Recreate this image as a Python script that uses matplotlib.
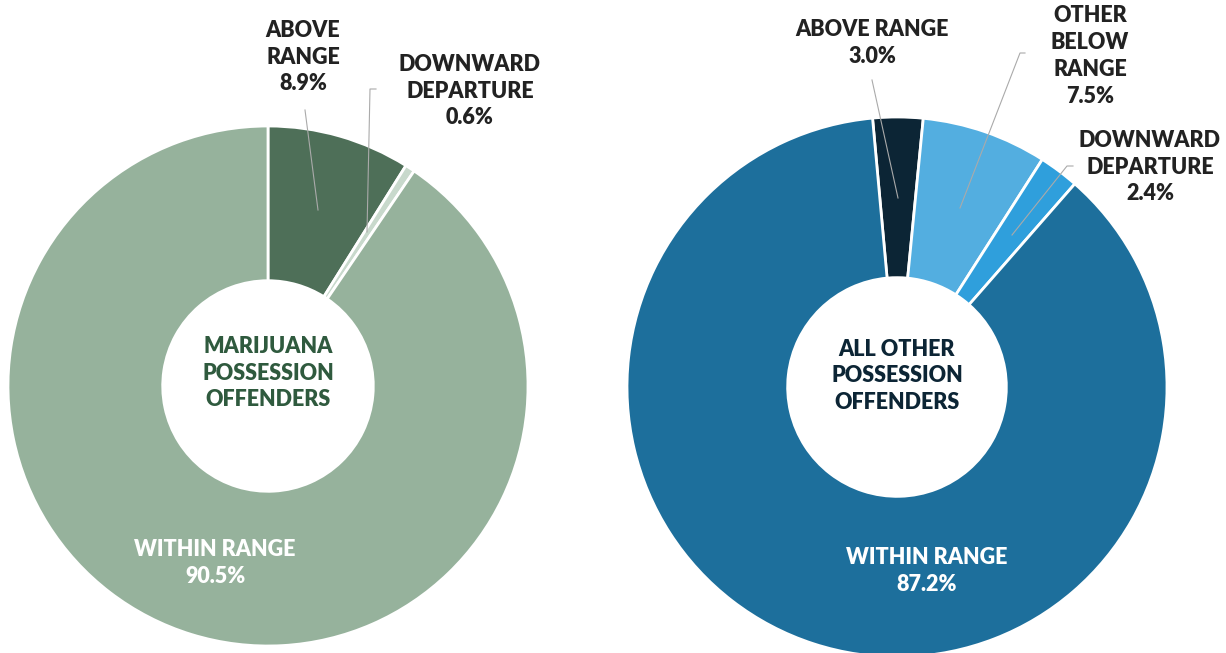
import matplotlib.pyplot as plt

plt.rcParams['font.family'] = ['Lato', 'DejaVu Sans']

# marijuana possession offenders
mjLabels = ['ABOVE\nRANGE', 'DOWNWARD\nDEPARTURE', 'WITHIN RANGE']
mjValues = [8.9, 0.6, 90.5]
mjColors = ['#4e6f58', '#c8d9cc', '#96b29c']

# all other possession offenders
otherLabels = ['ABOVE RANGE', 'OTHER\nBELOW\nRANGE', 'DOWNWARD\nDEPARTURE', 'WITHIN RANGE']
otherValues = [3.0, 7.5, 2.4, 87.2]
otherColors = ['#0c2535', '#53aee0', '#2f9fdc', '#1d6f9c']

W, H = 1226, 653

fig = plt.figure(figsize=(W / 100, H / 100), dpi=100)
ax = fig.add_axes([0, 0, 1, 1])


def y(py):
    # pixel row from top -> data y
    return H - py


def donut(center, radius, values, colors, start):
    ax.pie(values, colors=colors, center=center, radius=radius,
           startangle=start, counterclock=False,
           wedgeprops=dict(width=radius * 0.595, edgecolor='white', linewidth=2))


donut((268, y(386)), 260, mjValues, mjColors, 90)
donut((897, y(387)), 270, otherValues, otherColors, 95.2)

lbl = dict(ha='center', va='center', fontsize=15.5, fontweight='heavy',
           linespacing=1.35, color='#222222')
lead = dict(color='#aaaaaa', lw=0.8)

# left chart labels
ax.text(303, y(57), mjLabels[0] + '\n%.1f%%' % mjValues[0], **lbl)
ax.plot([305, 318], [y(110), y(210)], **lead)
ax.text(470, y(91), mjLabels[1] + '\n%.1f%%' % mjValues[1], **lbl)
ax.plot([376, 370, 367], [y(89), y(89), y(232)], **lead)
ax.text(215, y(563), mjLabels[2] + '\n%.1f%%' % mjValues[2],
        **{**lbl, 'color': 'white'})
ax.text(268, y(373), 'MARIJUANA\nPOSSESSION\nOFFENDERS',
        **{**lbl, 'color': '#2f5a3e'})

# right chart labels
ax.text(872, y(43), otherLabels[0] + '\n%.1f%%' % otherValues[0], **lbl)
ax.plot([872, 898], [y(80), y(198)], **lead)
ax.text(1090, y(56), otherLabels[1] + '\n%.1f%%' % otherValues[1], **lbl)
ax.plot([1025, 1020, 960], [y(53), y(53), y(208)], **lead)
ax.text(1150, y(167), otherLabels[2] + '\n%.1f%%' % otherValues[2], **lbl)
ax.plot([1073, 1067, 1012], [y(166), y(166), y(235)], **lead)
ax.text(927, y(571), otherLabels[3] + '\n%.1f%%' % otherValues[3],
        **{**lbl, 'color': 'white'})
ax.text(897, y(376), 'ALL OTHER\nPOSSESSION\nOFFENDERS',
        **{**lbl, 'color': '#0c2535'})

ax.set_xlim(0, W)
ax.set_ylim(0, H)
ax.set_aspect('equal')
ax.axis('off')

fig.savefig('out.png', dpi=100)
